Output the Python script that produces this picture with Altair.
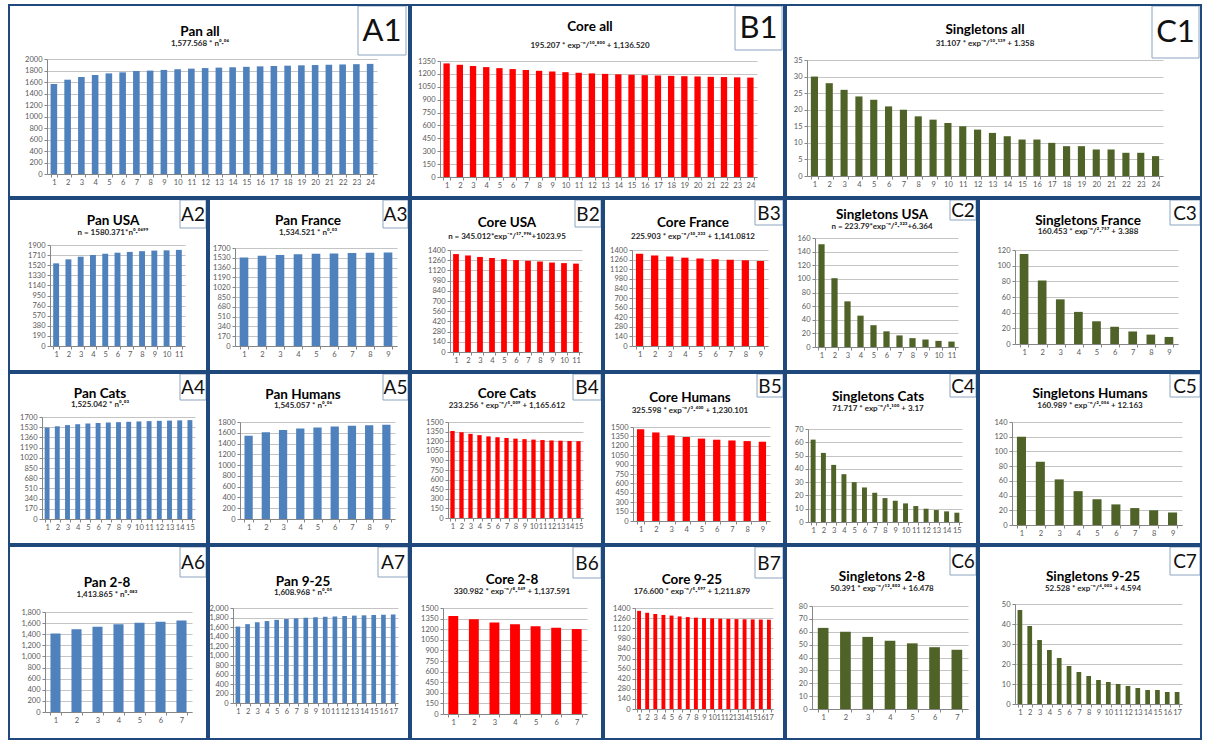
import altair as alt
import pandas as pd

FONT = "Lato"
NAVY = "#1F497D"
BLUE = "#4F81BD"
RED = "#FF0000"
GREEN = "#4F6228"
BOX_LINE = "#8EA4C1"

# ---- bar values (one list per panel) ----
pan_all = [1565, 1640, 1687, 1722, 1750, 1768, 1790, 1798, 1810, 1822, 1832, 1842,
           1850, 1856, 1864, 1872, 1878, 1884, 1890, 1895, 1900, 1905, 1910, 1915]
core_all = [1322, 1306, 1292, 1279, 1267, 1256, 1246, 1236, 1228, 1220, 1213, 1206,
            1200, 1195, 1190, 1185, 1181, 1177, 1173, 1170, 1166, 1163, 1160, 1157]
singletons_all = [30, 28, 26, 24, 23, 21, 20, 18, 17, 16, 15, 14,
                  13, 12, 11, 11, 10, 9, 9, 8, 8, 7, 7, 6]

pan_usa = [1555, 1630, 1680, 1712, 1735, 1755, 1770, 1784, 1795, 1800, 1808]
pan_france = [1534, 1565, 1580, 1592, 1600, 1606, 1612, 1616, 1620]
core_usa = [1344, 1325, 1305, 1290, 1275, 1262, 1252, 1242, 1228, 1220, 1213]
core_france = [1345, 1320, 1305, 1288, 1276, 1266, 1258, 1250, 1240]
singletons_usa = [151, 101, 67, 46, 32, 23, 17, 13, 11, 9, 8]
singletons_france = [115, 81, 57, 41, 29, 22, 16, 12, 9]

pan_cats = [1525, 1545, 1565, 1580, 1592, 1600, 1607, 1614, 1620, 1626, 1631, 1636, 1640, 1644, 1648]
pan_humans = [1545, 1610, 1650, 1680, 1700, 1715, 1730, 1740, 1750]
core_cats = [1360, 1340, 1315, 1295, 1275, 1262, 1250, 1240, 1232, 1225, 1218, 1212, 1208, 1204, 1200]
core_humans = [1466, 1413, 1367, 1340, 1315, 1297, 1285, 1275, 1265]
singletons_cats = [62, 52, 43, 36, 30, 26, 22, 18, 16, 14, 12, 10, 9, 8, 7]
singletons_humans = [120, 86, 62, 46, 35, 28, 23, 20, 17]

pan_2_8 = [1413, 1490, 1535, 1580, 1605, 1625, 1645]
pan_9_25 = [1609, 1660, 1700, 1725, 1750, 1768, 1782, 1795, 1805, 1815, 1823, 1832, 1840, 1846, 1853, 1858, 1864]
core_2_8 = [1387, 1340, 1295, 1270, 1243, 1220, 1202]
core_9_25 = [1360, 1334, 1317, 1304, 1295, 1283, 1274, 1266, 1260, 1256, 1252, 1249, 1246, 1244, 1242, 1240, 1238]
singletons_2_8 = [63, 60, 56, 53, 51, 48, 46]
singletons_9_25 = [47, 39, 32, 27, 23, 19, 16, 14, 12, 11, 10, 9, 8, 7, 7, 6, 6]

# ---- panel texts ----
titles = {
    "A1": "Pan all", "B1": "Core all", "C1": "Singletons all",
    "A2": "Pan USA", "A3": "Pan France", "B2": "Core USA", "B3": "Core France",
    "C2": "Singletons USA", "C3": "Singletons France",
    "A4": "Pan Cats", "A5": "Pan Humans", "B4": "Core Cats", "B5": "Core Humans",
    "C4": "Singletons Cats", "C5": "Singletons Humans",
    "A6": "Pan 2-8", "A7": "Pan 9-25", "B6": "Core 2-8", "B7": "Core 9-25",
    "C6": "Singletons 2-8", "C7": "Singletons 9-25",
}
formulas = {
    "A1": "1,577.568 * n⁰·⁰⁶",
    "B1": "195.207 * exp⁻ⁿ/¹⁰·⁸⁰⁰ + 1,136.520",
    "C1": "31.107 * exp⁻ⁿ/¹⁰·¹³⁹ + 1.358",
    "A2": "n = 1580.371*n⁰·⁰⁶⁹⁹",
    "A3": "1,534.521 * n⁰·⁰³",
    "B2": "n = 345.012*exp⁻ⁿ/¹⁷·⁹⁹⁶+1023.95",
    "B3": "225.903 * exp⁻ⁿ/¹⁰·³³³ + 1,141.0812",
    "C2": "n = 223.79*exp⁻ⁿ/²·³²³+6.364",
    "C3": "160.453 * exp⁻ⁿ/²·⁷⁵⁷ + 3.388",
    "A4": "1,525.042 * n⁰·⁰³",
    "A5": "1,545.057 * n⁰·⁰⁶",
    "B4": "233.256 * exp⁻ⁿ/⁵·⁰⁰⁹ + 1,165.612",
    "B5": "325.598 * exp⁻ⁿ/³·⁴⁰⁰ + 1,230.101",
    "C4": "71.717 * exp⁻ⁿ/⁵·¹⁰⁰ + 3.17",
    "C5": "160.989 * exp⁻ⁿ/²·⁰⁵⁶ + 12.163",
    "A6": "1,413.865 * n⁰·⁰⁸³",
    "A7": "1,608.968 * n⁰·⁰⁵",
    "B6": "330.982 * exp⁻ⁿ/⁸·⁵⁴⁹ + 1,137.591",
    "B7": "176.600 * exp⁻ⁿ/⁵·⁵⁹⁷ + 1,211.879",
    "C6": "50.391 * exp⁻ⁿ/¹²·⁸⁰² + 16.478",
    "C7": "52.528 * exp⁻ⁿ/⁴·⁰⁰² + 4.594",
}

series = {
    "A1": pan_all, "B1": core_all, "C1": singletons_all,
    "A2": pan_usa, "A3": pan_france, "B2": core_usa, "B3": core_france,
    "C2": singletons_usa, "C3": singletons_france,
    "A4": pan_cats, "A5": pan_humans, "B4": core_cats, "B5": core_humans,
    "C4": singletons_cats, "C5": singletons_humans,
    "A6": pan_2_8, "A7": pan_9_25, "B6": core_2_8, "B7": core_9_25,
    "C6": singletons_2_8, "C7": singletons_9_25,
}

# y axis: (max, step, number format)
y_axes = {
    "A1": (2000, 200, "d"), "B1": (1350, 150, "d"), "C1": (35, 5, "d"),
    "A2": (1900, 190, "d"), "A3": (1700, 170, "d"), "B2": (1400, 140, "d"),
    "B3": (1400, 140, "d"), "C2": (160, 20, "d"), "C3": (120, 20, "d"),
    "A4": (1700, 170, "d"), "A5": (1800, 200, "d"), "B4": (1500, 150, "d"),
    "B5": (1500, 150, "d"), "C4": (70, 10, "d"), "C5": (140, 20, "d"),
    "A6": (1800, 200, ",d"), "A7": (2000, 200, ",d"), "B6": (1500, 150, "d"),
    "B7": (1400, 140, "d"), "C6": (80, 10, "d"), "C7": (50, 10, "d"),
}

# ---- layout: panel size, plot box, title positions, tag box ----
# (W, H, left, right, top, bottom, title_x, title_y, sub_y, box_x0, box_x1, box_y1, tag_size)
layout = {
    "A1": (402, 194, 39, 369, 55, 170, 192, 28, 40, 350, 398, 51, 31),
    "B1": (375, 194, 30, 347, 57, 173, 180, 23, 42, 325, 372, 46, 31),
    "C1": (417, 194, 22, 378, 56, 172, 200, 26, 40, 367, 414, 54, 31),
    "A2": (200, 174, 42, 177, 47, 148, 105, 23, 35, 172, 198, 30, 19),
    "A3": (202, 174, 27, 189, 50, 148, 100, 23, 35, 175, 200, 30, 19),
    "B2": (193, 174, 40, 172, 52, 154, 97, 25, 39, 165, 191, 29, 19),
    "B3": (182, 174, 29, 165, 52, 148, 90, 25, 39, 152, 180, 27, 19),
    "C2": (193, 174, 30, 173, 40, 149, 97, 17, 29, 165, 191, 22, 19),
    "C3": (224, 174, 37, 200, 52, 146, 110, 23, 34, 192, 222, 27, 19),
    "A4": (200, 173, 34, 187, 45, 147, 92, 22, 33, 172, 198, 28, 19),
    "A5": (202, 173, 32, 187, 50, 147, 95, 23, 34, 175, 200, 28, 19),
    "B4": (193, 173, 38, 173, 50, 146, 97, 22, 34, 163, 191, 28, 19),
    "B5": (182, 173, 30, 167, 55, 149, 87, 26, 39, 154, 180, 25, 19),
    "C4": (193, 173, 23, 177, 57, 150, 93, 25, 37, 165, 191, 25, 19),
    "C5": (224, 173, 34, 204, 50, 153, 112, 22, 34, 192, 222, 25, 19),
    "A6": (200, 195, 37, 184, 67, 167, 99, 38, 50, 172, 198, 32, 19),
    "A7": (202, 195, 25, 190, 63, 158, 95, 37, 48, 170, 200, 32, 19),
    "B6": (193, 195, 33, 177, 63, 169, 102, 35, 47, 163, 191, 33, 19),
    "B7": (182, 195, 32, 170, 63, 164, 89, 35, 47, 152, 180, 33, 19),
    "C6": (193, 195, 27, 183, 61, 164, 97, 32, 44, 165, 191, 30, 19),
    "C7": (224, 195, 37, 204, 59, 159, 115, 32, 44, 192, 222, 30, 19),
}

colors = {"A": BLUE, "B": RED, "C": GREEN}
BW = 2  # border strip thickness inside each panel


def panel(tag):
    W, H, left, right, top, bottom, tx, ty, sy, bx0, bx1, by1, tag_size = layout[tag]
    values = series[tag]
    ymax, ystep, yfmt = y_axes[tag]
    df = pd.DataFrame({"n": list(range(1, len(values) + 1)), "v": values})
    info = pd.DataFrame({"title": [titles[tag]], "formula": [formulas[tag]], "tag": [tag]})

    bars = alt.Chart(df).mark_bar(color=colors[tag[0]]).encode(
        x=alt.X(
            "n:O", title=None,
            scale=alt.Scale(range=[left, right], paddingInner=0.52, paddingOuter=0.26),
            axis=alt.Axis(offset=bottom - H, labelAngle=0, tickBand="extent", grid=False,
                          labelPadding=1, labelOverlap=False),
        ),
        y=alt.Y(
            "v:Q", title=None,
            scale=alt.Scale(domain=[0, ymax], range=[bottom, top], nice=False, zero=True),
            axis=alt.Axis(offset=-left, values=list(range(0, ymax + 1, ystep)), format=yfmt,
                          grid=True, labelOverlap=False, labelPadding=2),
        ),
    )

    base = alt.Chart(info)
    title = base.mark_text(font=FONT, fontSize=13.5, fontWeight="bold", color="#000000",
                           align="center", baseline="middle").encode(
        x=alt.value(tx), y=alt.value(ty), text="title:N")
    formula = base.mark_text(font=FONT, fontSize=8, fontWeight="bold", color="#262626",
                             align="center", baseline="middle").encode(
        x=alt.value(tx), y=alt.value(sy), text="formula:N")
    box = base.mark_rect(fill="white", stroke=BOX_LINE, strokeWidth=1).encode(
        x=alt.value(bx0), x2=alt.value(bx1), y=alt.value(BW), y2=alt.value(by1))
    label = base.mark_text(font=FONT, fontSize=tag_size, color="#111111",
                           align="center", baseline="middle").encode(
        x=alt.value((bx0 + bx1) / 2), y=alt.value((BW + by1) / 2 + 1), text="tag:N")

    strips = [
        base.mark_rect(fill=NAVY).encode(x=alt.value(0), x2=alt.value(W), y=alt.value(0), y2=alt.value(BW)),
        base.mark_rect(fill=NAVY).encode(x=alt.value(0), x2=alt.value(W), y=alt.value(H - BW), y2=alt.value(H)),
        base.mark_rect(fill=NAVY).encode(x=alt.value(0), x2=alt.value(BW), y=alt.value(0), y2=alt.value(H)),
        base.mark_rect(fill=NAVY).encode(x=alt.value(W - BW), x2=alt.value(W), y=alt.value(0), y2=alt.value(H)),
    ]

    return alt.layer(bars, title, formula, box, label, *strips).properties(width=W, height=H)


rows = [
    ["A1", "B1", "C1"],
    ["A2", "A3", "B2", "B3", "C2", "C3"],
    ["A4", "A5", "B4", "B5", "C4", "C5"],
    ["A6", "A7", "B6", "B7", "C6", "C7"],
]

chart = alt.vconcat(
    *[alt.hconcat(*[panel(t) for t in row], spacing=0) for row in rows],
    spacing=0,
).properties(
    padding={"left": 8, "top": 4, "right": 4, "bottom": 2},
    background="white",
).configure_view(
    strokeWidth=0,
).configure_axis(
    labelFont=FONT, labelFontSize=7.5, labelColor="#595959",
    domainColor="#868686", tickColor="#868686", tickSize=3,
    gridColor="#C4C4C4", gridWidth=1,
)

chart.save("out.html", embed_options={"renderer": "svg", "actions": False})
